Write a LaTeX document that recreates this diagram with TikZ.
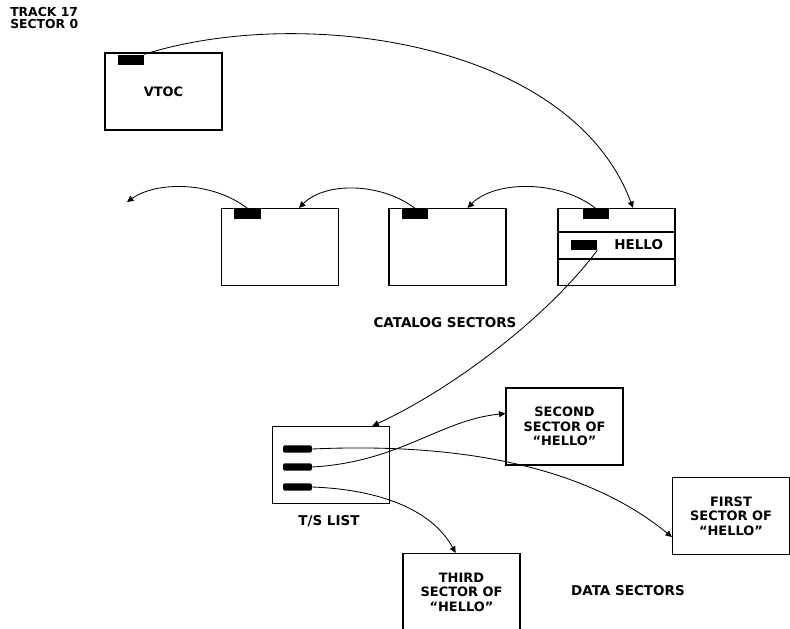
\documentclass[tikz,border=0pt]{standalone}
\usepackage{fontspec}
\setmainfont{DejaVu Sans}
\usetikzlibrary{arrows.meta,positioning,calc}
\tikzset{
  sect/.style={rectangle, draw, line width=0.8pt, minimum width=2.925cm,
               minimum height=1.925cm, align=center,
               font=\bfseries\fontsize{9.2}{10.4}\selectfont, inner sep=0pt},
  ptr/.style={rectangle, fill=black, minimum width=0.65cm, minimum height=0.27cm,
              inner sep=0pt},
  tsptr/.style={rectangle, fill=black, rounded corners=1pt, minimum width=0.72cm,
                minimum height=0.18cm, inner sep=0pt},
  lbl/.style={font=\bfseries\fontsize{9.6}{10.4}\selectfont, align=left},
  arr/.style={-{Triangle[length=1.6mm,width=1.5mm]}, line width=0.6pt}
}
\begin{document}
\begin{tikzpicture}[x=0.025cm, y=-0.025cm]
  \useasboundingbox (0,0) rectangle (790,629);
  % disk directory
  \node[lbl, anchor=north west, font=\bfseries\fontsize{8.8}{8.8}\selectfont, inner sep=0pt] (trk) at (10,7) {TRACK 17\\SECTOR 0};
  \node[sect] (vtoc) at (163.5,91.5) {VTOC};
  \node[ptr] (pv) at (131,60) {};
  % catalog sectors
  \node[sect] (cat3) at (280,247) {};
  \node[sect] (cat2) at (447.5,247) {};
  \node[sect] (cat1) at (616.5,247) {};
  \draw[line width=0.8pt] (cat1.west |- 0,232) -- (cat1.east |- 0,232);
  \draw[line width=0.8pt] (cat1.west |- 0,259) -- (cat1.east |- 0,259);
  \node[ptr] (p3) at (247.5,214) {};
  \node[ptr] (p2) at (415,214) {};
  \node[ptr] (p1) at (595.5,214) {};
  \node[ptr, minimum height=0.25cm] (ph) at (584,245) {};
  \node[lbl, right=0.3cm of ph] (hello) {HELLO};
  \node[lbl] (catlbl) at (445,323) {CATALOG SECTORS};
  \coordinate (end3) at (127,202);
  % T/S list and data sectors
  \node[sect] (ts) at (331,465) {};
  \node[tsptr] (t1) at (297.5,449) {};
  \node[tsptr] (t2) at (297.5,467) {};
  \node[tsptr] (t3) at (297.5,487) {};
  \node[lbl] (tslbl) at (329,521) {T/S LIST};
  \node[sect] (d2) at (564.5,426.5) {SECOND\\SECTOR OF\\``HELLO''};
  \node[sect] (d1) at (731,516) {FIRST\\SECTOR OF\\``HELLO''};
  \node[sect] (d3) at (461.5,592) {THIRD\\SECTOR OF\\``HELLO''};
  \node[lbl] (datlbl) at (628,591) {DATA SECTORS};
  % links
  \draw[arr] (pv.north east) .. controls (300,5) and (570,40) .. ($(cat1.north west)!0.64!(cat1.north east)$);
  \draw[arr] (p1.north) .. controls (560,180) and (495,180) .. ($(cat2.north west)!0.67!(cat2.north east)$);
  \draw[arr] (p2.north) .. controls (380,182) and (325,182) .. ($(cat3.north west)!0.66!(cat3.north east)$);
  \draw[arr] (p3.north) .. controls (210,180) and (155,182) .. (end3);
  \draw[arr] (ph.south east) .. controls (545,320) and (450,390) .. ($(ts.north west)!0.85!(ts.north east)$);
  \draw[arr] (t1.east) .. controls (470,442) and (590,470) .. ($(d1.west)+(0,21)$);
  \draw[arr] (t2.east) .. controls (400,462) and (440,420) .. ($(d2.west)+(0,-13)$);
  \draw[arr] (t3.east) .. controls (390,490) and (435,515) .. ($(d3.north west)!0.45!(d3.north east)$);
\end{tikzpicture}
\end{document}
